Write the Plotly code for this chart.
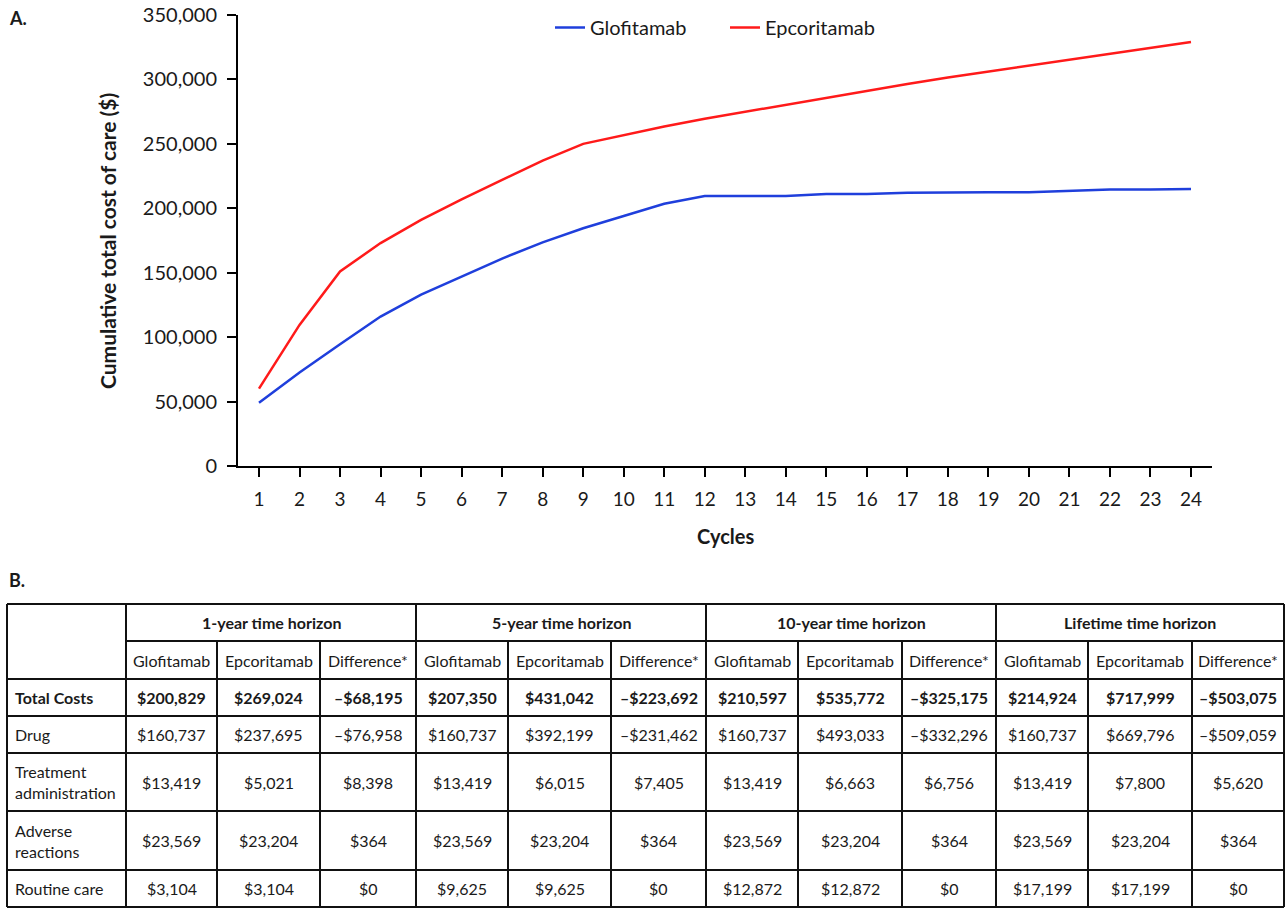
import plotly.graph_objects as go

# ---------------- Data ----------------
cycles = list(range(1, 25))
glofitamab = [49000, 72500, 94500, 116000, 133000, 147000, 161000, 173500, 184500, 194000,
              203500, 209500, 209500, 209500, 211000, 211000, 212000, 212500, 212500, 212500,
              213500, 214500, 214500, 215000]
epcoritamab = [60000, 109500, 151000, 173000, 191000, 207000, 222000, 237000, 250000, 257000,
               263500, 269500, 275000, 280500, 286000, 291500, 296500, 301500, 306000, 311000,
               315500, 320000, 324500, 329000]

y_ticks = [0, 50000, 100000, 150000, 200000, 250000, 300000, 350000]

horizons = ["1-year time horizon", "5-year time horizon", "10-year time horizon", "Lifetime time horizon"]
sub_columns = ["Glofitamab", "Epcoritamab", "Difference*"]
row_labels = ["Total Costs", "Drug", "Treatment<br>administration", "Adverse<br>reactions", "Routine care"]

total_costs = ["$200,829", "$269,024", "\u2013$68,195", "$207,350", "$431,042", "\u2013$223,692",
               "$210,597", "$535,772", "\u2013$325,175", "$214,924", "$717,999", "\u2013$503,075"]
drug = ["$160,737", "$237,695", "\u2013$76,958", "$160,737", "$392,199", "\u2013$231,462",
        "$160,737", "$493,033", "\u2013$332,296", "$160,737", "$669,796", "\u2013$509,059"]
treatment_admin = ["$13,419", "$5,021", "$8,398", "$13,419", "$6,015", "$7,405",
                   "$13,419", "$6,663", "$6,756", "$13,419", "$7,800", "$5,620"]
adverse_reactions = ["$23,569", "$23,204", "$364", "$23,569", "$23,204", "$364",
                     "$23,569", "$23,204", "$364", "$23,569", "$23,204", "$364"]
routine_care = ["$3,104", "$3,104", "$0", "$9,625", "$9,625", "$0",
                "$12,872", "$12,872", "$0", "$17,199", "$17,199", "$0"]
table_rows = [total_costs, drug, treatment_admin, adverse_reactions, routine_care]

# ---------------- Layout helpers ----------------
W, H = 1288, 908
FONT = "Lato"
TXT = "#1a1a1a"


def px(x):
    return x / W


def py(y):
    return 1 - y / H


fig = go.Figure()
fig.add_trace(go.Scatter(x=cycles, y=glofitamab, mode="lines", name="Glofitamab",
                         line=dict(color="#1f3fdc", width=2.5)))
fig.add_trace(go.Scatter(x=cycles, y=epcoritamab, mode="lines", name="Epcoritamab",
                         line=dict(color="#ff1a1a", width=2.5)))

x_left, x_right = 238, 1212
tick1, tick24 = 259, 1191
unit = (tick24 - tick1) / 23
xr0 = 1 - (tick1 - x_left) / unit
xr1 = 24 + (x_right - tick24) / unit

annotations = []
shapes = []

# Panel labels and axis titles
annotations.append(dict(text="<b>A.</b>", x=px(7), y=py(18), xref="paper", yref="paper",
                        xanchor="left", yanchor="middle", showarrow=False,
                        font=dict(family=FONT, size=18, color=TXT)))
annotations.append(dict(text="<b>B.</b>", x=px(7), y=py(580), xref="paper", yref="paper",
                        xanchor="left", yanchor="middle", showarrow=False,
                        font=dict(family=FONT, size=18, color=TXT)))
annotations.append(dict(text="<b>Cumulative total cost of care ($)</b>", x=px(107), y=py(241),
                        xref="paper", yref="paper", xanchor="center", yanchor="middle",
                        textangle=-90, showarrow=False,
                        font=dict(family=FONT, size=21, color=TXT)))
annotations.append(dict(text="<b>Cycles</b>", x=px(725), y=py(536), xref="paper", yref="paper",
                        xanchor="center", yanchor="middle", showarrow=False,
                        font=dict(family=FONT, size=20, color=TXT)))

# ---------------- Table (panel B) ----------------
col_edges = [7, 126, 217, 320, 416, 508, 611, 706, 798, 902, 996, 1088, 1192, 1284]
row_edges = [604, 641, 679, 716, 753, 811, 870, 907]
group_edges = [126, 416, 706, 996, 1284]
LINE = dict(color="#111111", width=2)


def hline(y, x0, x1):
    shapes.append(dict(type="line", xref="paper", yref="paper", x0=px(x0), x1=px(x1),
                       y0=py(y), y1=py(y), line=LINE))


def vline(x, y0, y1):
    shapes.append(dict(type="line", xref="paper", yref="paper", x0=px(x), x1=px(x),
                       y0=py(y0), y1=py(y1), line=LINE))


hline(row_edges[0], col_edges[0], col_edges[-1])
hline(row_edges[1], col_edges[1], col_edges[-1])
for y in row_edges[2:]:
    hline(y, col_edges[0], col_edges[-1])
for x in [col_edges[0]] + group_edges:
    vline(x, row_edges[0], row_edges[-1])
for x in col_edges[1:-1]:
    if x not in group_edges:
        vline(x, row_edges[1], row_edges[-1])


def cell_text(text, xc, yc, bold=False, anchor="center"):
    t = "<b>%s</b>" % text if bold else text
    annotations.append(dict(text=t, x=px(xc), y=py(yc), xref="paper", yref="paper",
                            xanchor=anchor, yanchor="middle", align="left", showarrow=False,
                            font=dict(family=FONT, size=16, color=TXT)))


for g, name in enumerate(horizons):
    xc = (group_edges[g] + group_edges[g + 1]) / 2
    cell_text(name, xc, (row_edges[0] + row_edges[1]) / 2, bold=True)
for c in range(12):
    xc = (col_edges[c + 1] + col_edges[c + 2]) / 2
    cell_text(sub_columns[c % 3], xc, (row_edges[1] + row_edges[2]) / 2)

for r, (label, vals) in enumerate(zip(row_labels, table_rows)):
    yc = (row_edges[r + 2] + row_edges[r + 3]) / 2
    cell_text(label, col_edges[0] + 6, yc, bold=(r == 0), anchor="left")
    for c, v in enumerate(vals):
        xc = (col_edges[c + 1] + col_edges[c + 2]) / 2
        cell_text(v, xc, yc, bold=(r == 0))

fig.update_layout(
    width=W, height=H,
    margin=dict(l=0, r=0, t=0, b=0, autoexpand=False),
    paper_bgcolor="white", plot_bgcolor="white",
    font=dict(family=FONT, size=18, color=TXT),
    showlegend=True,
    legend=dict(orientation="h", x=px(550), y=py(8), xanchor="left", yanchor="top",
                font=dict(family=FONT, size=20, color=TXT),
                bgcolor="rgba(0,0,0,0)", entrywidth=130, entrywidthmode="pixels"),
    xaxis=dict(domain=[px(x_left), px(x_right)], range=[xr0, xr1], automargin=False,
               tickmode="array", tickvals=cycles, ticktext=[str(c) for c in cycles],
               showline=True, linecolor="black", linewidth=2,
               ticks="outside", ticklen=9, tickwidth=2, tickcolor="black",
               ticklabelstandoff=6,
               showgrid=False, zeroline=False,
               tickfont=dict(family=FONT, size=19, color=TXT)),
    yaxis=dict(domain=[py(466), py(15)], range=[0, 350000], automargin=False,
               tickmode="array", tickvals=y_ticks, ticktext=["{:,}".format(v) for v in y_ticks],
               showline=True, linecolor="black", linewidth=2,
               ticks="outside", ticklen=9, tickwidth=2, tickcolor="black",
               ticklabelstandoff=6,
               showgrid=False, zeroline=False,
               tickfont=dict(family=FONT, size=20, color=TXT)),
    annotations=annotations,
    shapes=shapes,
)

fig.write_html("out.html", config={"displayModeBar": False},
               post_script="document.body.style.margin='0';")
